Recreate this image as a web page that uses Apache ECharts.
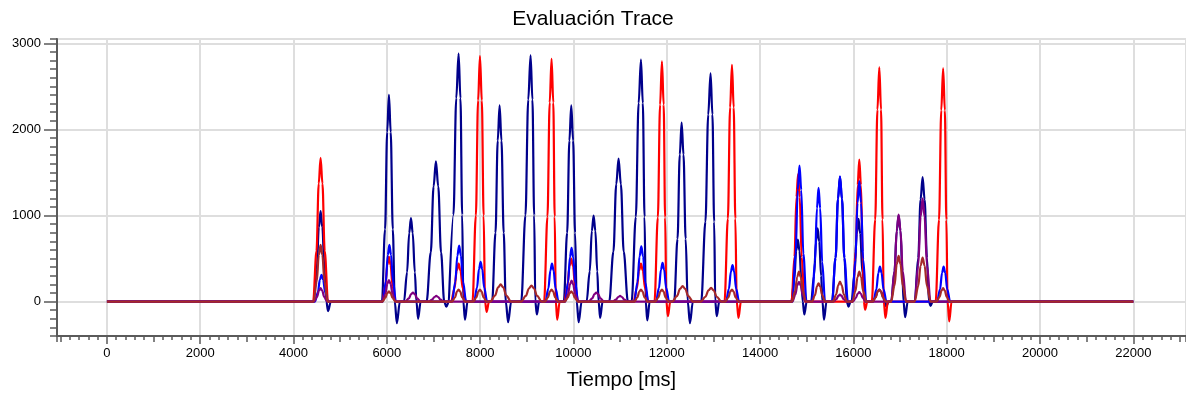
<!DOCTYPE html>
<html>
<head>
<meta charset="utf-8">
<script src="https://cdn.jsdelivr.net/npm/echarts@6/dist/echarts.min.js"></script>
<style>
html,body{margin:0;padding:0;background:#fff;}
#chart{width:1186px;height:396px;}
</style>
</head>
<body>
<div id="chart"></div>
<script>
const titleText = 'Evaluación Trace';
const xName = 'Tiempo [ms]';

// [time ms, value] pairs
const navyData = [
  [0,0],
  [4430,0],[4497,368],[4542,861],[4580,1050],[4618,861],[4663,368],[4705,0],[4740,-110],[4800,0],
  [5895,0],[5962,840],[6007,1968],[6045,2400],[6083,1968],[6128,840],[6170,0],[6215,-250],[6280,0],
  [6367,0],[6434,340],[6479,795],[6517,970],[6555,795],[6600,340],[6635,0],[6670,-200],[6725,0],
  [6852,0],[6942,571],[7002,1337],[7052,1630],[7102,1337],[7162,571],[7230,0],[7275,-60],[7330,0],
  [7338,0],[7428,1008],[7488,2362],[7538,2880],[7578,2362],[7615,1008],[7640,0],[7675,-210],[7730,0],
  [8257,0],[8329,798],[8377,1870],[8417,2280],[8457,1870],[8505,798],[8550,0],[8600,-240],[8665,0],
  [8881,0],[8971,1001],[9031,2345],[9081,2860],[9121,2345],[9158,1001],[9183,0],[9215,-150],[9265,0],
  [9793,0],[9865,798],[9913,1870],[9953,2280],[9993,1870],[10035,798],[10070,0],[10112,-240],[10175,0],
  [10282,0],[10349,350],[10394,820],[10432,1000],[10470,820],[10510,350],[10540,0],[10572,-190],[10625,0],
  [10767,0],[10857,581],[10917,1361],[10967,1660],[11017,1361],[11077,581],[11167,0],
  [11247,0],[11337,984],[11397,2304],[11447,2810],[11487,2304],[11524,984],[11550,0],[11582,-220],[11635,0],
  [12159,0],[12231,728],[12279,1706],[12319,2080],[12359,1706],[12405,728],[12450,0],[12497,-250],[12560,0],
  [12739,0],[12829,928],[12889,2173],[12939,2650],[12979,2173],[13016,928],[13040,0],[13072,-170],[13125,0],
  [14670,0],[14733,252],[14775,590],[14810,720],[14845,590],[14885,252],[14915,0],[14948,-150],[15000,0],
  [15094,0],[15157,298],[15199,697],[15234,850],[15269,697],[15309,298],[15338,0],[15370,-210],[15425,0],
  [15543,0],[15619,508],[15670,1189],[15713,1450],[15756,1189],[15807,508],[15860,0],[15895,-60],[15940,0],
  [15960,0],[16027,336],[16072,787],[16110,960],[16148,787],[16193,336],[16260,0],
  [16406,0],[16473,49],[16518,115],[16556,140],[16594,115],[16639,49],[16670,0],[16705,-60],[16755,0],
  [16810,0],[16882,350],[16930,820],[16970,1000],[17010,820],[17050,350],[17075,0],[17110,-180],[17165,0],
  [17314,0],[17390,506],[17441,1185],[17484,1445],[17527,1185],[17578,506],[17620,0],[17655,-50],[17700,0],
  [22000,0]
];

const redData = [
  [0,0],
  [4420,0],[4492,585],[4540,1369],[4580,1670],[4620,1369],[4668,585],[4740,0],
  [5905,0],[5968,182],[6010,426],[6045,520],[6080,426],[6122,182],[6185,0],
  [7378,0],[7450,154],[7498,361],[7538,440],[7578,361],[7626,154],[7698,0],
  [7836,0],[7908,998],[7956,2337],[7996,2850],[8036,2337],[8075,998],[8105,0],[8138,-120],[8190,0],
  [9371,0],[9443,987],[9491,2312],[9531,2820],[9568,2312],[9598,987],[9622,0],[9652,-210],[9705,0],
  [9803,0],[9870,175],[9915,410],[9953,500],[9991,410],[10036,175],[10103,0],
  [11287,0],[11359,154],[11407,361],[11447,440],[11487,361],[11535,154],[11607,0],
  [11737,0],[11809,977],[11857,2288],[11897,2790],[11934,2288],[11965,977],[11992,0],[12025,-170],[12075,0],
  [13238,0],[13310,963],[13358,2255],[13398,2750],[13435,2255],[13470,963],[13500,0],[13537,-190],[13590,0],
  [14675,0],[14738,518],[14780,1214],[14815,1480],[14850,1214],[14892,518],[14955,0],
  [15987,0],[16050,578],[16092,1353],[16127,1650],[16162,1353],[16200,578],[16225,0],[16252,-95],[16300,0],
  [16396,0],[16468,952],[16516,2230],[16556,2720],[16593,2230],[16625,952],[16652,0],[16688,-190],[16740,0],
  [17764,0],[17836,949],[17884,2222],[17924,2710],[17961,2222],[17993,949],[18020,0],[18055,-230],[18105,0],
  [22000,0]
];

const blueData = [
  [0,0],
  [4460,0],[4523,109],[4565,254],[4600,310],[4635,254],[4677,109],[4740,0],
  [5915,0],[5978,231],[6020,541],[6055,660],[6090,541],[6132,231],[6195,0],
  [7400,0],[7467,228],[7512,533],[7550,650],[7588,533],[7633,228],[7700,0],
  [7870,0],[7933,161],[7975,377],[8010,460],[8045,377],[8087,161],[8150,0],
  [9400,0],[9463,154],[9505,361],[9540,440],[9575,361],[9617,154],[9680,0],
  [9820,0],[9883,219],[9925,513],[9960,625],[9995,513],[10037,219],[10100,0],
  [11305,0],[11372,224],[11417,525],[11455,640],[11493,525],[11538,224],[11605,0],
  [11770,0],[11833,158],[11875,369],[11910,450],[11945,369],[11987,158],[12050,0],
  [13270,0],[13333,149],[13375,349],[13410,425],[13445,349],[13487,149],[13550,0],
  [14695,0],[14762,553],[14807,1296],[14845,1580],[14883,1296],[14928,553],[14995,0],
  [15114,0],[15177,462],[15219,1082],[15254,1320],[15289,1082],[15331,462],[15394,0],
  [15543,0],[15619,509],[15670,1193],[15713,1455],[15756,1193],[15807,509],[15883,0],
  [15977,0],[16044,490],[16089,1148],[16127,1400],[16165,1148],[16210,490],[16277,0],
  [16430,0],[16493,142],[16535,332],[16570,405],[16605,332],[16647,142],[16710,0],
  [17795,0],[17858,142],[17900,332],[17935,405],[17970,332],[18012,142],[18075,0],
  [22000,0]
];

const purpleData = [
  [0,0],
  [4440,0],[4503,54],[4545,127],[4580,155],[4615,127],[4657,54],[4720,0],
  [5905,0],[5968,88],[6010,205],[6045,250],[6080,205],[6122,88],[6185,0],
  [6400,0],[6472,37],[6520,86],[6560,105],[6600,86],[6648,37],[6720,0],
  [6900,0],[6972,23],[7020,53],[7060,65],[7100,53],[7148,23],[7220,0],
  [9820,0],[9883,85],[9925,199],[9960,243],[9995,199],[10037,85],[10100,0],
  [10330,0],[10402,37],[10450,86],[10490,105],[10530,86],[10578,37],[10650,0],
  [10840,0],[10912,23],[10960,53],[11000,65],[11040,53],[11088,23],[11160,0],
  [14694,0],[14757,81],[14799,189],[14834,230],[14869,189],[14911,81],[14974,0],
  [15573,0],[15636,28],[15678,66],[15713,80],[15748,66],[15790,28],[15853,0],
  [15987,0],[16050,39],[16092,90],[16127,110],[16162,90],[16204,39],[16267,0],
  [16810,0],[16882,354],[16930,828],[16970,1010],[17010,828],[17058,354],[17130,0],
  [17314,0],[17390,420],[17441,984],[17484,1200],[17527,984],[17578,420],[17654,0],
  [22000,0]
];

const brownData = [
  [0,0],
  [4430,0],[4497,231],[4542,541],[4580,660],[4618,541],[4663,231],[4730,0],
  [5905,0],[5968,42],[6010,98],[6045,120],[6080,98],[6122,42],[6185,0],
  [7398,0],[7461,49],[7503,115],[7538,140],[7573,115],[7615,49],[7678,0],
  [7856,0],[7919,49],[7961,115],[7996,140],[8031,115],[8073,49],[8136,0],
  [8220,0],[8319,70],[8385,164],[8440,200],[8495,164],[8561,70],[8660,0],
  [8880,0],[8979,65],[9045,152],[9100,185],[9155,152],[9221,65],[9320,0],
  [9391,0],[9454,49],[9496,115],[9531,140],[9566,115],[9608,49],[9671,0],
  [9813,0],[9876,42],[9918,98],[9953,120],[9988,98],[10030,42],[10093,0],
  [11307,0],[11370,49],[11412,115],[11447,140],[11482,115],[11524,49],[11587,0],
  [11757,0],[11820,49],[11862,115],[11897,140],[11932,115],[11974,49],[12037,0],
  [12120,0],[12219,63],[12285,148],[12340,180],[12395,148],[12461,63],[12560,0],
  [12730,0],[12829,56],[12895,131],[12950,160],[13005,131],[13071,56],[13170,0],
  [13258,0],[13321,49],[13363,115],[13398,140],[13433,115],[13475,49],[13538,0],
  [14684,0],[14751,121],[14796,285],[14834,347],[14872,285],[14917,121],[14984,0],
  [15114,0],[15177,74],[15219,174],[15254,212],[15289,174],[15331,74],[15394,0],
  [15563,0],[15630,81],[15675,189],[15713,231],[15751,189],[15796,81],[15863,0],
  [15977,0],[16044,121],[16089,285],[16127,347],[16165,285],[16210,121],[16277,0],
  [16416,0],[16479,49],[16521,115],[16556,140],[16591,115],[16633,49],[16696,0],
  [16810,0],[16882,186],[16930,435],[16970,530],[17010,435],[17058,186],[17130,0],
  [17314,0],[17390,179],[17441,418],[17484,510],[17527,418],[17578,179],[17654,0],
  [17784,0],[17847,54],[17889,127],[17924,155],[17959,127],[18001,54],[18064,0],
  [22000,0]
];

const xMin = -1070, xMax = 23130;
const yMin = -400, yMax = 3050;

const font = "'Liberation Sans', Arial, sans-serif";
const axisColor = '#5a5a5a';
const gridColor = '#dedede';
const plain = v => String(v);

function line(data, color, z, w) {
  return {
    type: 'line', data: data, xAxisIndex: 0, yAxisIndex: 0,
    showSymbol: false, symbol: 'none', smooth: 0.35, smoothMonotone: 'x',
    lineStyle: { color: color, width: w }, itemStyle: { color: color },
    z: z
  };
}

const chart = echarts.init(document.getElementById('chart'), null, { renderer: 'canvas' });
chart.setOption({
  animation: false,
  backgroundColor: '#fff',
  title: {
    text: titleText, left: 'center', top: 4,
    textStyle: { fontFamily: font, fontSize: 21, fontWeight: 'normal', color: '#000' }
  },
  grid: { left: 57, right: 0, top: 39, bottom: 60, show: true, borderColor: '#8f8f8f', borderWidth: 2, backgroundColor: 'transparent' },
  xAxis: [
    {
      type: 'value', min: xMin, max: xMax, splitNumber: 12, position: 'bottom',
      name: xName, nameLocation: 'middle', nameGap: 34,
      nameTextStyle: { fontFamily: font, fontSize: 20, color: '#000' },
      axisLine: { show: true, onZero: false, lineStyle: { color: axisColor, width: 2 } },
      axisTick: { show: true, length: 8, lineStyle: { color: axisColor, width: 1.5 } },
      axisLabel: { fontFamily: font, fontSize: 13, color: '#000', margin: 11, showMinLabel: false, showMaxLabel: false, formatter: plain },
      splitLine: { show: true, lineStyle: { color: gridColor, width: 2 } }
    },
    {
      type: 'value', min: xMin, max: xMax, splitNumber: 24, position: 'bottom',
      axisLine: { show: false, onZero: false }, axisLabel: { show: false }, splitLine: { show: false },
      axisTick: { show: true, length: 6, lineStyle: { color: axisColor, width: 1.5 } }
    },
    {
      type: 'value', min: xMin, max: xMax, splitNumber: 121, position: 'bottom',
      axisLine: { show: false, onZero: false }, axisLabel: { show: false }, splitLine: { show: false },
      axisTick: { show: true, length: 4, lineStyle: { color: axisColor, width: 1.5 } }
    }
  ],
  yAxis: [
    {
      type: 'value', min: yMin, max: yMax, splitNumber: 4, position: 'left',
      axisLine: { show: true, onZero: false, lineStyle: { color: axisColor, width: 2 } },
      axisTick: { show: true, length: 13, lineStyle: { color: axisColor, width: 1.5 } },
      axisLabel: { fontFamily: font, fontSize: 13, color: '#000', margin: 16, showMinLabel: false, showMaxLabel: false, formatter: plain },
      splitLine: { show: true, lineStyle: { color: gridColor, width: 2 } }
    },
    {
      type: 'value', min: yMin, max: yMax, splitNumber: 34, position: 'left',
      axisLine: { show: false, onZero: false }, axisLabel: { show: false }, splitLine: { show: false },
      axisTick: { show: true, length: 7, lineStyle: { color: axisColor, width: 1.5 } }
    }
  ],
  series: [
    line(navyData, '#00008b', 3, 2.2),
    line(redData, '#ff0000', 4, 2.2),
    line(blueData, '#0000ff', 5, 2.2),
    line(purpleData, '#800080', 6, 2.2),
    line(brownData, '#a52a2a', 7, 2.2)
  ]
});
</script>
</body>
</html>
